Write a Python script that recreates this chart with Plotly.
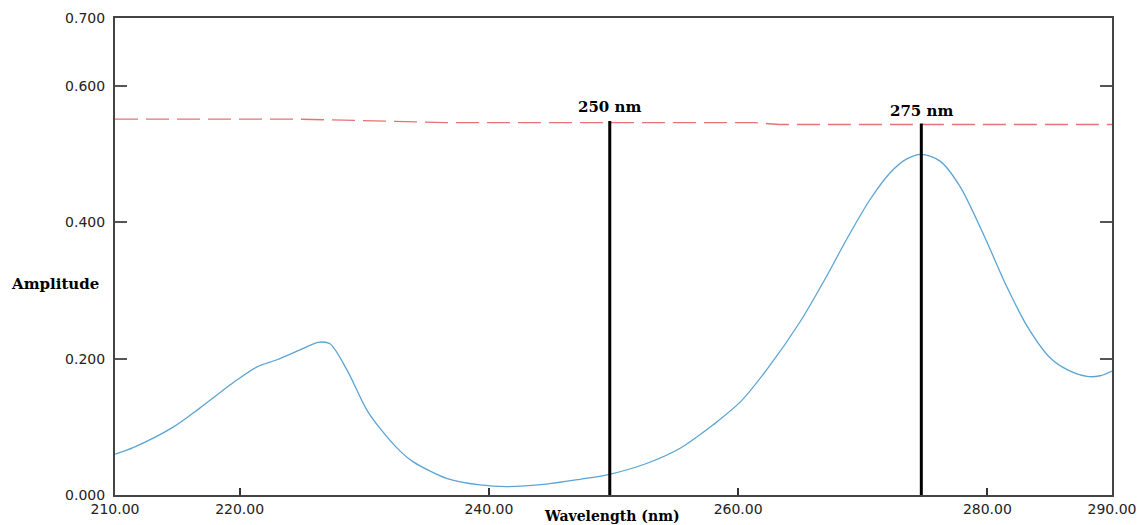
import plotly.graph_objects as go

# Blue spectrum (wavelength nm, amplitude)
wavelength = [210.0, 211.5, 214.7, 216.8, 219.8, 221.4, 223.0, 224.85, 226.3, 227.25, 228.6,
              230.2, 231.3, 232.9, 233.9, 236.6, 239.3, 241.4, 244.6, 247.3, 249.6, 252.7,
              255.35, 256.9, 258.0, 260.2, 262.3, 265.0, 267.1, 268.7, 270.6, 272.2, 273.5,
              274.7, 276.2, 277.8, 279.7, 281.55, 283.2, 285.05, 286.4, 288.0, 289.05, 290.0]
amplitude = [0.060, 0.070, 0.100, 0.1275, 0.169, 0.188, 0.1985, 0.213, 0.224, 0.222, 0.184,
             0.125, 0.097, 0.064, 0.049, 0.0245, 0.0147, 0.0122, 0.016, 0.023, 0.030, 0.0466,
             0.0686, 0.088, 0.103, 0.137, 0.184, 0.255, 0.321, 0.375, 0.434, 0.473, 0.493,
             0.500, 0.490, 0.453, 0.382, 0.306, 0.2475, 0.201, 0.184, 0.174, 0.175, 0.182]

# Red dashed reference line
ref_x = [210.0, 224.8, 236.6, 261.2, 263.3, 290.0]
ref_y = [0.5515, 0.5515, 0.5466, 0.5466, 0.5437, 0.5437]

# Marker lines
marker_x = [249.7, 274.7]
marker_top = [0.549, 0.545]
marker_labels = ["250 nm", "275 nm"]
marker_label_y = [0.569, 0.563]

x_ticks = [210, 220, 240, 260, 280, 290]
x_tick_text = ["210.00", "220.00", "240.00", "260.00", "280.00", "290.00"]
y_ticks = [0.0, 0.2, 0.4, 0.6, 0.7]
y_tick_text = ["0.000", "0.200", "0.400", "0.600", "0.700"]

serif = "DejaVu Serif"
sans = "DejaVu Sans"

fig = go.Figure()
fig.add_trace(go.Scatter(x=ref_x, y=ref_y, mode="lines",
                         line=dict(color="#e57373", width=1.3, dash="23px,8px"),
                         showlegend=False, hoverinfo="skip"))
fig.add_trace(go.Scatter(x=wavelength, y=amplitude, mode="lines",
                         line=dict(color="#5ba4d4", width=1.3, shape="spline", smoothing=0.8),
                         showlegend=False))
for mx, mt, lab, ly in zip(marker_x, marker_top, marker_labels, marker_label_y):
    fig.add_trace(go.Scatter(x=[mx, mx], y=[0, mt], mode="lines",
                             line=dict(color="black", width=3),
                             showlegend=False, hoverinfo="skip"))
    fig.add_annotation(x=mx, y=ly, text="<b>" + lab + "</b>", showarrow=False,
                       xref="x", yref="y",
                       font=dict(family=serif, size=15, color="black"))

fig.add_annotation(x=-0.106, y=0.309, xref="paper", yref="y", text="<b>Amplitude</b>",
                   showarrow=False, xanchor="left",
                   font=dict(family=serif, size=15, color="black"))
fig.add_annotation(x=(612 - 115) / 997, y=-(516 - 495) / 477, xref="paper", yref="paper",
                   text="<b>Wavelength (nm)</b>", showarrow=False, yanchor="middle",
                   font=dict(family=serif, size=14, color="black"))

fig.update_xaxes(range=[210, 290], tickvals=x_ticks, ticktext=x_tick_text,
                 showline=True, linecolor="#444444", linewidth=2, mirror=True,
                 ticks="inside", ticklen=7, tickcolor="#333333", tickwidth=1.5,
                 showgrid=False, zeroline=False, automargin=False,
                 tickfont=dict(family=sans, size=14, color="#222222"))
fig.update_yaxes(range=[0, 0.7], tickvals=y_ticks, ticktext=y_tick_text,
                 showline=True, linecolor="#444444", linewidth=2, mirror="ticks",
                 ticks="inside", ticklen=12, tickcolor="#555555", tickwidth=1.5,
                 showgrid=False, zeroline=False, automargin=False, ticklabelstandoff=5,
                 tickfont=dict(family=sans, size=14, color="#222222"))

fig.update_layout(width=1137, height=525, margin=dict(l=115, r=25, t=18, b=30),
                  plot_bgcolor="white", paper_bgcolor="white")

fig.write_html("out.html", config={"displayModeBar": False},
               post_script="document.body.style.margin='0';document.body.style.overflow='hidden';")
